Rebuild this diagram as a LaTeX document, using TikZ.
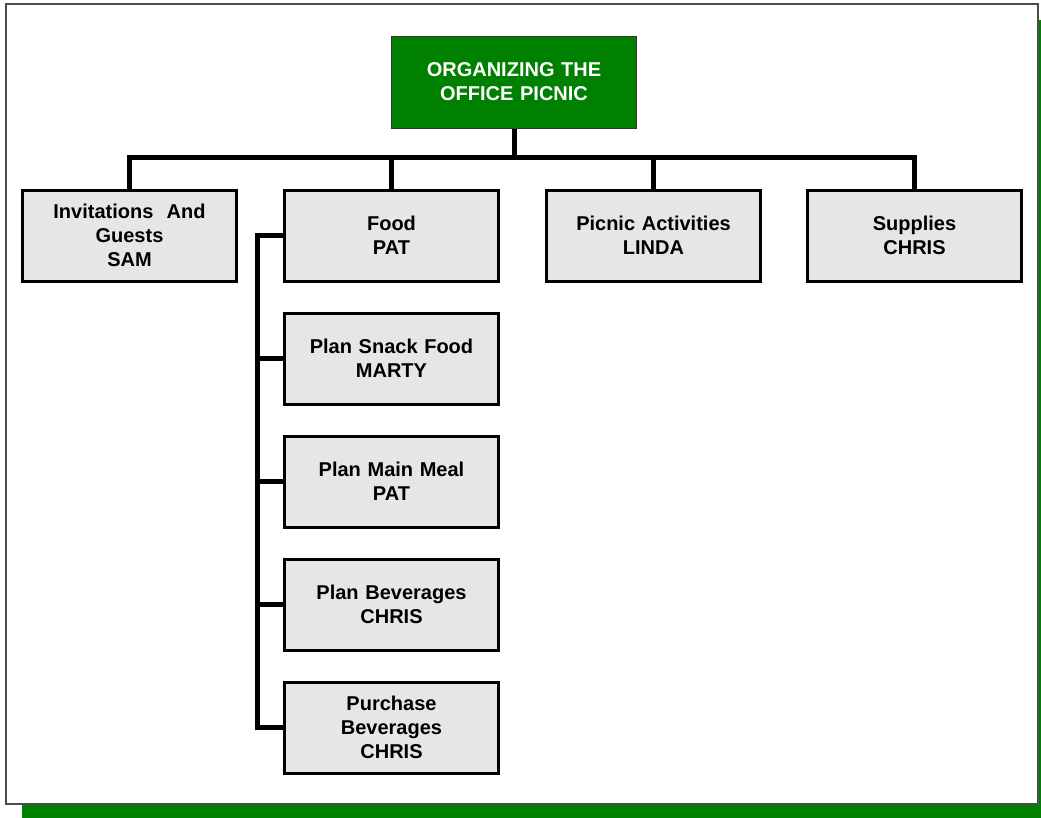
\documentclass[tikz,border=0pt]{standalone}
\usepackage{fontspec}
\setmainfont{Liberation Sans}
\pgfdeclarelayer{sheet}
\pgfdeclarelayer{lines}
\pgfsetlayers{sheet,lines,main}
\begin{document}
\definecolor{picgreen}{RGB}{0,128,0}
\definecolor{boxgray}{RGB}{230,230,230}
\begin{tikzpicture}[x=1pt,y=-1pt,
  font=\fontsize{20}{24}\selectfont\bfseries,
  rootbox/.style={draw=black!80,line width=1pt,fill=picgreen,text=white,
    anchor=north west,minimum width=245,minimum height=92,text width=240,
    align=center,inner sep=0pt},
  taskbox/.style={draw=black,line width=3pt,fill=boxgray,anchor=north west,
    minimum width=214,minimum height=91,text width=210,align=center,inner sep=0pt},
  conn/.style={line width=5pt,line join=miter,line cap=butt}]
  \useasboundingbox (0,0) rectangle (1041,817);
  % sheet with its drop shadow
  \begin{pgfonlayer}{sheet}
    \fill[picgreen] (22,20) rectangle (1060,830);
    \draw[fill=white,draw=black!70,line width=1.5pt] (6,4) rectangle (1038,804);
  \end{pgfonlayer}
  % boxes
  \node[rootbox] (root) at (391,35.5) {ORGANIZING THE\\OFFICE PICNIC};
  \node[taskbox] (inv) at (21,188.5) {Invitations~~And\\Guests\\SAM};
  \node[taskbox] (food) at (283,188.5) {Food\\PAT};
  \node[taskbox] (act) at (545,188.5) {Picnic Activities\\LINDA};
  \node[taskbox] (sup) at (806,188.5) {Supplies\\CHRIS};
  \node[taskbox] (snack) at (283,311.5) {Plan Snack Food\\MARTY};
  \node[taskbox] (meal) at (283,434.5) {Plan Main Meal\\PAT};
  \node[taskbox] (bev) at (283,557.5) {Plan Beverages\\CHRIS};
  \node[taskbox] (buy) at (283,680.5) {Purchase\\Beverages\\CHRIS};
  \coordinate (bus) at (514,157);
  \coordinate (sp) at (257,235);
  % connectors, under the boxes
  \begin{pgfonlayer}{lines}
    \draw[conn] (root.south) -- (root.south |- bus);
    \draw[conn] (inv.north) |- (bus) -| (sup.north);
    \draw[conn] (food.north) -- (food.north |- bus);
    \draw[conn] (act.north) -- (act.north |- bus);
    \draw[conn] (food.west) -- (food.west -| sp) |- (buy.west);
    \draw[conn] (snack.west) -- (snack.west -| sp);
    \draw[conn] (meal.west) -- (meal.west -| sp);
    \draw[conn] (bev.west) -- (bev.west -| sp);
  \end{pgfonlayer}
\end{tikzpicture}
\end{document}
